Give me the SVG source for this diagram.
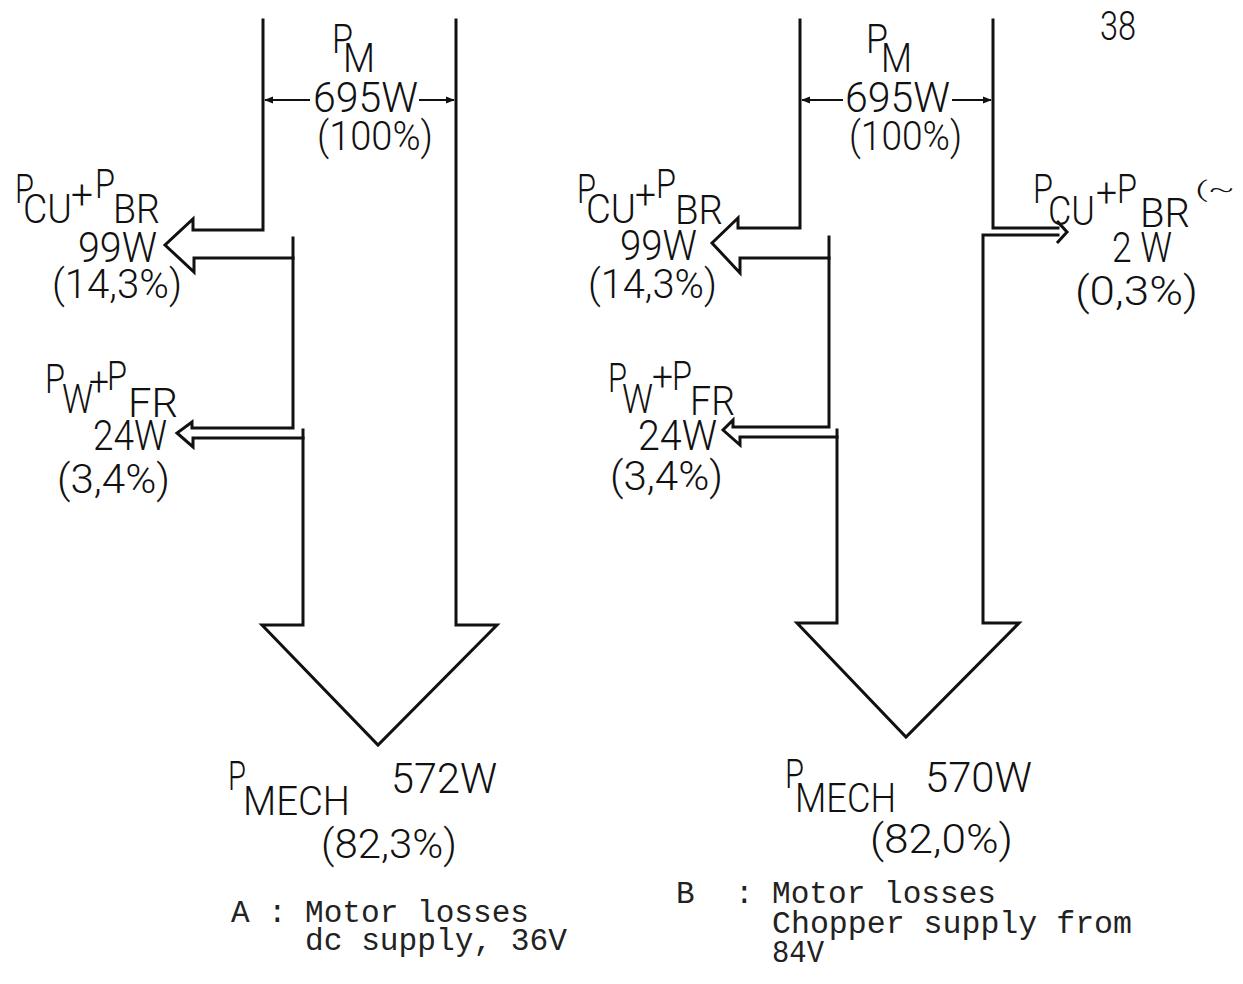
<svg xmlns="http://www.w3.org/2000/svg" width="1243" height="984" viewBox="0 0 1243 984">
<style>
.ln{fill:none;stroke:#111;stroke-width:3;stroke-linecap:square;stroke-linejoin:miter}
.dim{fill:none;stroke:#111;stroke-width:2}
.t{font-family:Roboto,"DejaVu Sans Condensed","Liberation Sans",sans-serif;font-weight:300;fill:#111;font-size:40px}
.b{font-size:42px}
.m{font-family:"Liberation Mono","DejaVu Sans Mono",monospace;fill:#222;font-size:31px}
</style>
<defs>
<marker id="ah" viewBox="0 0 10 10" refX="9" refY="5" markerWidth="9" markerHeight="9" markerUnits="userSpaceOnUse" orient="auto">
<path d="M0,1 L10,5 L0,9 Z" fill="#111"/>
</marker>
</defs>
<rect width="1243" height="984" fill="#fff"/>

<g id="connectors">
<line class="dim" x1="310" y1="100" x2="265" y2="100" marker-end="url(#ah)"/>
<line class="dim" x1="419" y1="100" x2="454" y2="100" marker-end="url(#ah)"/>
<line class="dim" x1="843" y1="100" x2="802" y2="100" marker-end="url(#ah)"/>
<line class="dim" x1="952" y1="100" x2="991" y2="100" marker-end="url(#ah)"/>
</g>

<g id="flowA">
<path class="ln" d="M263,20 V230 H193 V219 L165,245 L194,272 V258 H293"/>
<path class="ln" d="M293,238 V428 H192 V422 L177,433 L193,447 V438 H303"/>
<path class="ln" d="M303,430 V625 H262 L378,745 L497,625 H456 V20"/>
</g>

<g id="flowB">
<path class="ln" d="M800,20 V228 H738 V218 L712,243 L740,273 V258 H829"/>
<path class="ln" d="M829,237 V427 H733 V420 L723,430 L740,445 V437 H837"/>
<path class="ln" d="M837,430 V623 H797 L906,737 L1019,623 H983 V235 H1058"/>
<path class="ln" d="M993,20 V228 H1058"/>
<path class="ln" d="M1058,222 L1067,232 L1058,242"/>
</g>

<g id="labelA-PM">
<text class="t"><tspan x="332" y="53" textLength="21" lengthAdjust="spacingAndGlyphs">P</tspan><tspan x="343" y="72" textLength="32" lengthAdjust="spacingAndGlyphs">M</tspan></text>
<text class="t b" x="313" y="112" textLength="105" lengthAdjust="spacingAndGlyphs">695W</text>
<text class="t" x="317" y="150" textLength="116" lengthAdjust="spacingAndGlyphs">(100%)</text>
</g>

<g id="labelA-CU">
<text class="t"><tspan x="15" y="203" textLength="19" lengthAdjust="spacingAndGlyphs">P</tspan><tspan x="23" y="223" textLength="49" lengthAdjust="spacingAndGlyphs">CU</tspan><tspan x="71" y="209" textLength="22" lengthAdjust="spacingAndGlyphs">+</tspan><tspan x="95" y="198" textLength="20" lengthAdjust="spacingAndGlyphs">P</tspan><tspan x="113" y="223" textLength="47" lengthAdjust="spacingAndGlyphs">BR</tspan></text>
<text class="t b" x="78" y="262" textLength="79" lengthAdjust="spacingAndGlyphs">99W</text>
<text class="t" x="52" y="298" textLength="130" lengthAdjust="spacingAndGlyphs">(14,3%)</text>
</g>

<g id="labelA-W">
<text class="t"><tspan x="45" y="393" textLength="20" lengthAdjust="spacingAndGlyphs">P</tspan><tspan x="62" y="413" textLength="31" lengthAdjust="spacingAndGlyphs">W</tspan><tspan x="89" y="396" textLength="20" lengthAdjust="spacingAndGlyphs">+</tspan><tspan x="107" y="390" textLength="20" lengthAdjust="spacingAndGlyphs">P</tspan><tspan x="128" y="417" textLength="50" lengthAdjust="spacingAndGlyphs">FR</tspan></text>
<text class="t b" x="93" y="450" textLength="74" lengthAdjust="spacingAndGlyphs">24W</text>
<text class="t" x="57" y="493" textLength="113" lengthAdjust="spacingAndGlyphs">(3,4%)</text>
</g>

<g id="labelA-MECH">
<text class="t"><tspan x="228" y="790" textLength="18" lengthAdjust="spacingAndGlyphs">P</tspan><tspan x="243" y="815" textLength="107" lengthAdjust="spacingAndGlyphs">MECH</tspan></text>
<text class="t b" x="391" y="793" textLength="106" lengthAdjust="spacingAndGlyphs">572W</text>
<text class="t" x="321" y="858" textLength="136" lengthAdjust="spacingAndGlyphs">(82,3%)</text>
</g>

<g id="captionA">
<text class="m" x="231" y="922">A</text>
<text class="m" x="268" y="922">:</text>
<text class="m" x="305" y="922" textLength="224" lengthAdjust="spacingAndGlyphs">Motor losses</text>
<text class="m" x="305" y="950" textLength="262" lengthAdjust="spacingAndGlyphs">dc supply, 36V</text>
</g>

<g id="labelB-PM">
<text class="t"><tspan x="866" y="53" textLength="22" lengthAdjust="spacingAndGlyphs">P</tspan><tspan x="881" y="72" textLength="31" lengthAdjust="spacingAndGlyphs">M</tspan></text>
<text class="t b" x="845" y="112" textLength="105" lengthAdjust="spacingAndGlyphs">695W</text>
<text class="t" x="849" y="150" textLength="113" lengthAdjust="spacingAndGlyphs">(100%)</text>
</g>

<g id="pageNumber">
<text class="t" x="1100" y="40" font-size="30" textLength="36" lengthAdjust="spacingAndGlyphs">38</text>
</g>

<g id="labelB-CU">
<text class="t"><tspan x="577" y="203" textLength="19" lengthAdjust="spacingAndGlyphs">P</tspan><tspan x="586" y="223" textLength="50" lengthAdjust="spacingAndGlyphs">CU</tspan><tspan x="635" y="209" textLength="21" lengthAdjust="spacingAndGlyphs">+</tspan><tspan x="656" y="198" textLength="20" lengthAdjust="spacingAndGlyphs">P</tspan><tspan x="675" y="224" textLength="48" lengthAdjust="spacingAndGlyphs">BR</tspan></text>
<text class="t b" x="620" y="260" textLength="77" lengthAdjust="spacingAndGlyphs">99W</text>
<text class="t" x="588" y="298" textLength="129" lengthAdjust="spacingAndGlyphs">(14,3%)</text>
</g>

<g id="labelB-W">
<text class="t"><tspan x="608" y="392" textLength="19" lengthAdjust="spacingAndGlyphs">P</tspan><tspan x="622" y="413" textLength="31" lengthAdjust="spacingAndGlyphs">W</tspan><tspan x="652" y="391" textLength="21" lengthAdjust="spacingAndGlyphs">+</tspan><tspan x="672" y="390" textLength="20" lengthAdjust="spacingAndGlyphs">P</tspan><tspan x="690" y="415" textLength="45" lengthAdjust="spacingAndGlyphs">FR</tspan></text>
<text class="t b" x="638" y="450" textLength="79" lengthAdjust="spacingAndGlyphs">24W</text>
<text class="t" x="610" y="490" textLength="113" lengthAdjust="spacingAndGlyphs">(3,4%)</text>
</g>

<g id="labelB-CU2">
<text class="t"><tspan x="1033" y="203" textLength="20" lengthAdjust="spacingAndGlyphs">P</tspan><tspan x="1048" y="225" textLength="47" lengthAdjust="spacingAndGlyphs">CU</tspan><tspan x="1096" y="207" textLength="21" lengthAdjust="spacingAndGlyphs">+</tspan><tspan x="1117" y="203" textLength="20" lengthAdjust="spacingAndGlyphs">P</tspan><tspan x="1140" y="227" textLength="50" lengthAdjust="spacingAndGlyphs">BR</tspan><tspan x="1195" y="197" font-size="22" textLength="40" lengthAdjust="spacingAndGlyphs">(~</tspan></text>
<text class="t b" x="1112" y="262" textLength="60" lengthAdjust="spacingAndGlyphs">2 W</text>
<text class="t" x="1075" y="305" textLength="123" lengthAdjust="spacingAndGlyphs">(0,3%)</text>
</g>

<g id="labelB-MECH">
<text class="t"><tspan x="785" y="788" textLength="19" lengthAdjust="spacingAndGlyphs">P</tspan><tspan x="795" y="812" textLength="101" lengthAdjust="spacingAndGlyphs">MECH</tspan></text>
<text class="t b" x="925" y="792" textLength="107" lengthAdjust="spacingAndGlyphs">570W</text>
<text class="t" x="870" y="853" textLength="143" lengthAdjust="spacingAndGlyphs">(82,0%)</text>
</g>

<g id="captionB">
<text class="m" x="676" y="903">B</text>
<text class="m" x="735" y="903">:</text>
<text class="m" x="772" y="903" textLength="224" lengthAdjust="spacingAndGlyphs">Motor losses</text>
<text class="m" x="772" y="933" textLength="360" lengthAdjust="spacingAndGlyphs">Chopper supply from</text>
<text class="m" x="772" y="962" textLength="52" lengthAdjust="spacingAndGlyphs">84V</text>
</g>
</svg>
